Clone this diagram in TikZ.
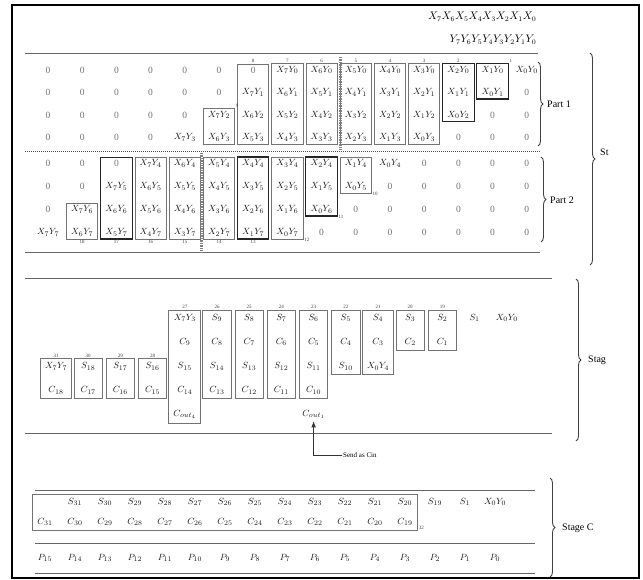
\documentclass[tikz,border=0pt]{standalone}
\usepackage{fontspec}
\setmainfont{Liberation Serif}
\usetikzlibrary{arrows.meta,positioning,fit,decorations.pathreplacing}

\begin{document}
\begin{tikzpicture}[
    x=1pt,
    y=-1pt,
    >=Latex,
    cell/.style={
        inner sep=1pt,
        minimum width=20pt,
        text=black!90,
        font=\fontsize{9.5}{10}\selectfont
    },
    zero/.style={
        cell,
        text=black!55
    },
    adder/.style={
        draw=black!55,
        line width=0.8pt,
        rectangle,
        inner xsep=3.5pt,
        inner ysep=1.5pt
    },
    darkadder/.style={
        adder,
        draw=black!85,
        line width=1.1pt
    },
    tag/.style={
        font=\fontsize{5}{5}\selectfont,
        text=black!75,
        inner sep=0.6pt
    },
    rule/.style={
        draw=black!60,
        line width=0.9pt
    },
    dotrule/.style={
        draw=black!70,
        line width=1pt,
        dash pattern=on 1pt off 1pt
    },
    ladder/.style={
        draw=black!50,
        line width=3pt,
        dash pattern=on 0.7pt off 1pt
    },
    groupbrace/.style={
        decorate,
        decoration={brace,amplitude=5pt},
        draw=black!75,
        line width=0.9pt
    },
    bracetext/.style={
        anchor=west,
        inner sep=1pt,
        font=\fontsize{10}{11}\selectfont
    }
]
\useasboundingbox (0,0) rectangle (643,580);
\draw[line width=1.4pt] (12,5) rectangle (639,578);

% ============================================================
% Partial products
% ============================================================
\node[anchor=east, font=\fontsize{10.5}{12}\selectfont] (hdr-x) at (540,17)
    {$X_7X_6X_5X_4X_3X_2X_1X_0$};
\node[anchor=east, font=\fontsize{10.5}{12}\selectfont] (hdr-y) at (540,40)
    {$Y_7Y_6Y_5Y_4Y_3Y_2Y_1Y_0$};

\draw[rule] (25,53) -- (538,53);
\draw[dotrule] (25,152) -- (540,152);
\draw[rule] (25,252) -- (540,252);

% ------------------------------------------------------------
% Part 1
% ------------------------------------------------------------
\foreach \r in {1,...,4}{
    \foreach \c in {0,...,14}{
        \pgfmathtruncatemacro{\xa}{15-\r-\c}
        \pgfmathtruncatemacro{\ya}{\r-1}
        \def\sty{cell}
        \ifnum\xa<0 \def\ent{0}\def\sty{zero}\else
            \ifnum\xa>7 \def\ent{0}\def\sty{zero}\else
                \def\ent{$X_{\xa}Y_{\ya}$}\fi\fi
        \node[\sty] (a-\r-\c) at ({48+34.2*\c},{70+22.5*(\r-1)}) {\ent};
    }
}

\node[darkadder, fit=(a-1-13)(a-2-13)] (pa1) {};
\node[darkadder, fit=(a-1-12)(a-3-12)] (pa2) {};
\foreach \c/\n in {11/3,10/4,9/5,8/6,7/7,6/8}
    \node[adder, fit=(a-1-\c)(a-4-\c)] (pa\n) {};
\node[adder, fit=(a-3-5)(a-4-5)] (pa9) {};

\node[tag, anchor=south west] (pa1-no) at (pa1.north east) {1};
\foreach \n in {2,...,8}
    \node[tag, above=0pt of pa\n] (pa\n-no) {\n};
\node[tag, anchor=south west] (pa9-no) at (pa9.north east) {9};

\coordinate (lad1-top) at (340,57);
\coordinate (lad1-bot) at (340,150);
\draw[ladder] (lad1-top) -- (lad1-bot);

% ------------------------------------------------------------
% Part 2
% ------------------------------------------------------------
\foreach \r in {1,...,4}{
    \foreach \c in {0,...,14}{
        \pgfmathtruncatemacro{\xa}{11-\r-\c}
        \pgfmathtruncatemacro{\ya}{\r+3}
        \def\sty{cell}
        \ifnum\xa<0 \def\ent{0}\def\sty{zero}\else
            \ifnum\xa>7 \def\ent{0}\def\sty{zero}\else
                \def\ent{$X_{\xa}Y_{\ya}$}\fi\fi
        \node[\sty] (b-\r-\c) at ({48+34.2*\c},{163.5+23*(\r-1)}) {\ent};
    }
}

\node[adder, fit=(b-1-9)(b-2-9)] (pb10) {};
\node[darkadder, fit=(b-1-8)(b-3-8)] (pb11) {};
\foreach \c/\n in {7/12,6/13,5/14,4/15,3/16,2/17}
    \node[adder, fit=(b-1-\c)(b-4-\c)] (pb\n) {};
\node[adder, fit=(b-3-1)(b-4-1)] (pb18) {};
\node[darkadder, fit=(b-1-6)(b-4-6)] {};
\node[darkadder, fit=(b-1-2)(b-4-2)] {};

\foreach \n in {10,11,12}
    \node[tag, anchor=west] (pb\n-no) at (pb\n.south east) {\n};
\foreach \n in {13,...,18}
    \node[tag, below=0pt of pb\n] (pb\n-no) {\n};

\coordinate (lad2-top) at (201,153);
\coordinate (lad2-bot) at (201,252);
\draw[ladder] (lad2-top) -- (lad2-bot);

% ------------------------------------------------------------
% Braces
% ------------------------------------------------------------
\draw[groupbrace] (538,62) -- (538,146);
\node[bracetext] (lbl-part1) at (546,104) {Part 1};
\draw[groupbrace] (541,157) -- (541,242);
\node[bracetext] (lbl-part2) at (549,200) {Part 2};
\draw[groupbrace] (590,53) -- (590,265);
\node[bracetext] (lbl-st) at (599,152) {St};

% ============================================================
% Stage of adders 19--31
% ============================================================
\draw[rule] (25,278) -- (552,278);
\draw[rule] (25,433) -- (552,433);

\foreach \k/\r/\ent in {
    4/1/X_7Y_3, 4/2/C_9, 4/3/S_{15}, 4/4/C_{14}, 4/5/C_{out_4},
    5/1/S_9, 5/2/C_8, 5/3/S_{14}, 5/4/C_{13},
    6/1/S_8, 6/2/C_7, 6/3/S_{13}, 6/4/C_{12},
    7/1/S_7, 7/2/C_6, 7/3/S_{12}, 7/4/C_{11},
    8/1/S_6, 8/2/C_5, 8/3/S_{11}, 8/4/C_{10},
    9/1/S_5, 9/2/C_4, 9/3/S_{10},
    10/1/S_4, 10/2/C_3, 10/3/X_0Y_4,
    11/1/S_3, 11/2/C_2,
    12/1/S_2, 12/2/C_1,
    13/1/S_1, 14/1/X_0Y_0,
    0/3/X_7Y_7, 0/4/C_{18},
    1/3/S_{18}, 1/4/C_{17},
    2/3/S_{17}, 2/4/C_{16},
    3/3/S_{16}, 3/4/C_{15}}
    \node[cell, minimum width=21pt] (s-\k-\r)
        at ({56+32.2*\k},{318+24.2*(\r-1)}) {$\ent$};

\node[adder, inner ysep=3pt, fit=(s-4-1)(s-4-5)] (sb27) {};
\foreach \k/\n in {5/26,6/25,7/24,8/23}
    \node[adder, inner ysep=3pt, fit=(s-\k-1)(s-\k-4)] (sb\n) {};
\foreach \k/\n in {9/22,10/21}
    \node[adder, inner ysep=3pt, fit=(s-\k-1)(s-\k-3)] (sb\n) {};
\foreach \k/\n in {11/20,12/19}
    \node[adder, inner ysep=3pt, fit=(s-\k-1)(s-\k-2)] (sb\n) {};
\foreach \k/\n in {0/31,1/30,2/29,3/28}
    \node[adder, inner ysep=3pt, fit=(s-\k-3)(s-\k-4)] (sb\n) {};
\foreach \n in {19,...,31}
    \node[tag, above=0pt of sb\n] (sb\n-no) {\n};

\node[cell] (cout1) at ({56+32.2*8},{318+24.2*4}) {$C_{out_1}$};
\node[anchor=west, inner sep=1pt, font=\fontsize{7}{8}\selectfont]
    (sendcin) at (342,455) {Send as Cin};
\draw[->, black!80, line width=0.7pt, shorten >=1pt] (sendcin.west) -| (cout1.south);

\draw[groupbrace] (576,279) -- (576,441);
\node[bracetext] (lbl-stag) at (587,360) {Stag};

% ============================================================
% Stage C
% ============================================================
\draw[rule] (35,490) -- (535,490);
\draw[rule] (35,543) -- (535,543);
\draw[rule] (35,573) -- (535,573);

\foreach \k in {1,...,12}{
    \pgfmathtruncatemacro{\n}{32-\k}
    \node[cell, minimum width=0pt] (cs-\k) at ({45+30*\k},502) {$S_{\n}$};
}
\node[cell, minimum width=0pt] (cs-13) at ({45+30*13},502) {$S_{19}$};
\node[cell, minimum width=0pt] (cs-14) at ({45+30*14},502) {$S_1$};
\node[cell, minimum width=0pt] (cs-15) at ({45+30*15},502) {$X_0Y_0$};
\foreach \k in {0,...,12}{
    \pgfmathtruncatemacro{\n}{31-\k}
    \node[cell, minimum width=0pt] (cc-\k) at ({45+30*\k},522) {$C_{\n}$};
}
\foreach \k in {0,...,15}{
    \pgfmathtruncatemacro{\n}{15-\k}
    \node[cell, minimum width=0pt] (p-\k) at ({45+30*\k},558) {$P_{\n}$};
}

\node[adder, inner xsep=4pt, inner ysep=3pt, fit=(cc-0)(cs-12)(cc-12)] (rca) {};
\node[tag, anchor=south west] (rca-no) at (rca.south east) {32};

\draw[groupbrace] (550,478) -- (550,577);
\node[bracetext] (lbl-stagec) at (561,528) {Stage C};

\end{tikzpicture}
\end{document}
